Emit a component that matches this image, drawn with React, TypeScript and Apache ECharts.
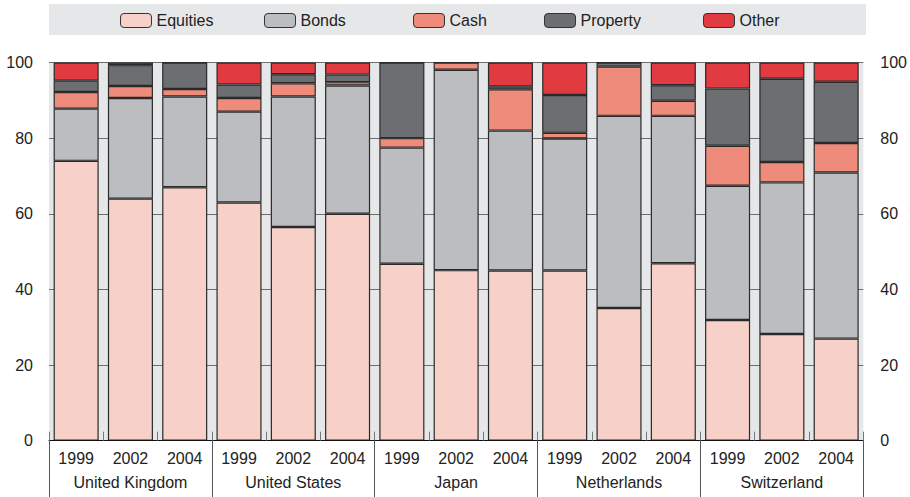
import React, { useEffect, useRef } from "react";
import * as echarts from "echarts";

const years = ["1999", "2002", "2004", "1999", "2002", "2004", "1999", "2002", "2004", "1999", "2002", "2004", "1999", "2002", "2004"];
const countries = ["United Kingdom", "United States", "Japan", "Netherlands", "Switzerland"];

const equities = [74, 64, 67, 63, 56.5, 60, 46.8, 45.1, 45, 45, 35.1, 46.9, 31.9, 28.2, 27];
const bonds = [13.8, 26.6, 24, 24, 34.5, 33.9, 30.7, 53, 37, 34.9, 50.8, 39, 35.5, 40.1, 43.9];
const cash = [4.4, 3.2, 2, 3.6, 3.5, 0.9, 2.5, 1.9, 10.9, 1.5, 13, 4, 10.6, 5.4, 7.8];
const property = [3, 5.5, 7, 3.6, 2.4, 2, 20, 0, 0.8, 10, 1.1, 4.1, 15.1, 22, 16.2];
const other = [4.8, 0.7, 0, 5.8, 3.1, 3.2, 0, 0, 6.3, 8.6, 0, 6, 6.9, 4.3, 5.1];

const seriesNames = ["Equities", "Bonds", "Cash", "Property", "Other"];
const seriesData = [equities, bonds, cash, property, other];
const colors = ["#f7d1c7", "#bcbdc0", "#ee8b7b", "#6d6e71", "#e13a41"];
const legendLeft = [120, 264, 413, 544, 703];

const FONT = "'Liberation Sans', Arial, sans-serif";

export default function App() {
  const ref = useRef<HTMLDivElement>(null);
  useEffect(() => {
    if (!ref.current) return;
    const chart = echarts.init(ref.current, null, { renderer: "svg" });
    const option: any = {
      animation: false,
      textStyle: { fontFamily: FONT },
      graphic: [
        {
          type: "rect",
          shape: { x: 49, y: 4, width: 817, height: 31 },
          style: { fill: "#e6e7e8" },
          z: -1,
        },
      ],
      legend: seriesNames.map((n, i) => ({
        data: [n],
        left: legendLeft[i],
        top: 12.5,
        padding: 0,
        itemWidth: 31,
        itemHeight: 14,
        itemGap: 0,
        textStyle: { fontFamily: FONT, fontSize: 16, color: "#222" },
        itemStyle: { borderColor: "#333", borderWidth: 1 },
      })),
      grid: {
        left: 49,
        right: 45,
        top: 62.5,
        bottom: 56.3,
        show: true,
        backgroundColor: "#e6e7e8",
        borderWidth: 0,
      },
      xAxis: [
        {
          type: "category",
          data: years,
          position: "bottom",
          axisLine: { show: true, lineStyle: { color: "#111", width: 1 } },
          axisTick: { show: true, inside: true, length: 9, lineStyle: { color: "#777", width: 1 } },
          axisLabel: { interval: 0, margin: 10, fontSize: 16, color: "#222", fontFamily: FONT },
          z: 10,
        },
        {
          type: "category",
          data: countries,
          position: "bottom",
          axisLine: { show: false },
          axisTick: { show: true, length: 57, lineStyle: { color: "#555", width: 1 } },
          axisLabel: { interval: 0, margin: 34, fontSize: 16, color: "#222", fontFamily: FONT },
        },
      ],
      yAxis: [
        {
          type: "value",
          min: 0,
          max: 100,
          interval: 20,
          position: "left",
          axisLine: { show: false },
          axisTick: { show: false },
          axisLabel: { margin: 16, fontSize: 16, color: "#222", fontFamily: FONT },
          splitLine: { show: true, lineStyle: { color: "#6d6e70", width: 1 } },
        },
        {
          type: "value",
          min: 0,
          max: 100,
          interval: 20,
          position: "right",
          axisLine: { show: false },
          axisTick: { show: false },
          axisLabel: { margin: 17, fontSize: 16, color: "#222", fontFamily: FONT },
          splitLine: { show: false },
        },
      ],
      series: seriesNames.map((n, i) => ({
        name: n,
        type: "bar",
        stack: "total",
        xAxisIndex: 0,
        yAxisIndex: 0,
        barCategoryGap: "17%",
        data: seriesData[i],
        itemStyle: { color: colors[i], borderColor: "#2a2a2a", borderWidth: 1.2 },
      })),
    };
    chart.setOption(option);
    return () => chart.dispose();
  }, []);
  return (
    <div
      ref={ref}
      style={{ position: "fixed", left: 0, top: 0, width: 910, height: 497, background: "#fff" }}
    />
  );
}
